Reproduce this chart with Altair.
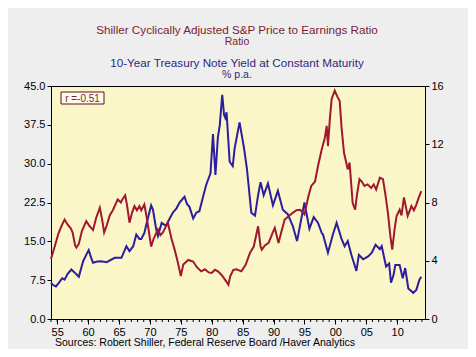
import altair as alt
import pandas as pd

# ---- data ----
cape_year = [1954.0, 1954.6, 1955.2, 1955.7, 1956.2, 1956.7, 1957.2, 1957.5, 1957.9, 1958.1,
             1958.5, 1959.0, 1959.7, 1960.2, 1960.8, 1961.3, 1961.9, 1962.3, 1962.6, 1963.0,
             1963.5, 1964.0, 1964.8, 1965.3, 1965.5, 1966.0, 1966.3, 1966.7, 1967.1, 1967.5,
             1967.9, 1968.3, 1968.6, 1969.1, 1969.5, 1970.2, 1970.6, 1971.3, 1971.7, 1972.1,
             1972.9, 1973.5, 1974.0, 1974.5, 1975.0, 1975.4, 1976.2, 1976.7, 1977.0, 1977.6,
             1978.3, 1978.9, 1979.5, 1980.0, 1980.5, 1981.0, 1981.6, 1982.2, 1982.7, 1983.0,
             1983.5, 1984.0, 1984.8, 1985.5, 1986.2, 1986.8, 1987.5, 1987.9, 1988.1, 1988.6,
             1989.2, 1989.8, 1990.2, 1990.8, 1991.3, 1991.8, 1992.4, 1993.1, 1993.7, 1994.3,
             1995.0, 1995.6, 1996.1, 1996.7, 1997.2, 1997.8, 1998.3, 1998.6, 1998.8, 1999.1,
             1999.4, 1999.9, 2000.3, 2000.7, 2001.0, 2001.4, 2002.0, 2002.3, 2002.8, 2003.2,
             2003.5, 2003.9, 2004.3, 2004.7, 2005.2, 2005.8, 2006.2, 2006.6, 2007.2, 2007.7,
             2008.1, 2008.5, 2008.9, 2009.2, 2009.6, 2009.9, 2010.4, 2010.7, 2011.1, 2011.7,
             2012.3, 2012.7, 2013.1, 2013.5, 2013.9]
cape_val = [11.6, 14.0, 16.5, 18.0, 19.2, 18.2, 17.5, 16.7, 14.2, 13.8,
            14.5, 17.0, 18.9, 18.0, 17.2, 19.5, 21.5, 19.0, 16.7, 18.0,
            20.0, 21.0, 23.1, 22.5, 23.0, 23.9, 22.0, 18.6, 20.5, 21.8,
            21.0, 21.8, 21.0, 22.1, 19.5, 14.0, 15.5, 17.3, 16.2, 16.7,
            18.6, 15.5, 13.4, 11.0, 8.3, 10.5, 11.4, 11.2, 11.1, 10.0,
            9.2, 9.6, 9.0, 8.9, 9.5, 9.2, 8.5, 7.5, 6.6, 8.3,
            9.5, 9.6, 9.2, 10.5, 12.8, 14.0, 17.9, 14.0, 13.4, 14.2,
            14.7, 16.5, 17.6, 14.7, 17.0, 19.2, 19.8, 20.5, 21.0, 21.1,
            20.2, 23.5, 25.7, 26.5, 29.6, 32.8, 35.0, 37.3, 33.4, 38.5,
            42.5, 44.1, 43.0, 42.1, 37.0, 32.1, 28.9, 30.2, 22.4, 21.1,
            24.0, 27.0, 26.5, 25.7, 26.0, 25.3, 26.0, 25.0, 27.3, 27.0,
            24.0, 20.5, 16.0, 13.4, 17.5, 19.9, 21.1, 20.0, 23.5, 19.9,
            21.8, 21.0, 22.1, 23.5, 24.7]

yld_year = [1954.0, 1954.3, 1954.8, 1955.3, 1955.8, 1956.2, 1956.7, 1957.3, 1957.8, 1958.5,
            1959.2, 1959.7, 1960.1, 1960.5, 1960.8, 1961.5, 1962.1, 1963.0, 1964.3, 1965.4,
            1966.2, 1966.7, 1967.3, 1967.8, 1968.3, 1968.6, 1969.1, 1969.6, 1970.2, 1970.5,
            1971.0, 1971.3, 1971.9, 1972.6, 1973.2, 1973.7, 1974.3, 1974.8, 1975.6, 1976.0,
            1976.4, 1977.0, 1977.5, 1978.0, 1978.6, 1979.1, 1979.8, 1980.2, 1980.6, 1981.0,
            1981.3, 1981.7, 1982.0, 1982.2, 1982.4, 1982.9, 1983.4, 1983.7, 1984.5, 1985.2,
            1985.7, 1986.4, 1987.0, 1987.5, 1987.9, 1988.4, 1989.1, 1989.9, 1990.7, 1991.5,
            1992.3, 1993.1, 1993.8, 1994.5, 1995.0, 1995.8, 1996.5, 1997.2, 1997.8, 1998.0,
            1998.8, 1999.6, 2000.2, 2001.0, 2001.5, 2002.0, 2002.6, 2003.4, 2003.8, 2004.5,
            2005.3, 2005.9, 2006.5, 2007.2, 2007.5, 2008.2, 2008.7, 2009.0, 2009.4, 2009.7,
            2010.4, 2010.9, 2011.3, 2011.8, 2012.6, 2013.1, 2013.6, 2013.9]
yld_val = [2.5, 2.35, 2.24, 2.5, 2.8, 2.7, 3.1, 3.4, 3.2, 2.9,
           3.97, 4.4, 4.73, 4.2, 3.86, 3.95, 3.97, 3.9, 4.2, 4.2,
           5.0, 4.65, 5.0, 5.8, 5.5, 5.5, 5.9, 6.8, 7.8, 7.5,
           6.2, 5.7, 6.6, 6.4, 6.9, 7.3, 7.6, 8.0, 8.4, 7.9,
           7.7, 6.9, 7.3, 7.4, 8.4, 9.2, 10.0, 12.7, 9.9, 12.5,
           13.3, 15.4, 14.0, 13.8, 14.2, 10.8, 10.5, 11.7, 13.5, 11.8,
           10.3, 7.3, 7.1, 8.5, 9.4, 8.5, 9.3, 7.8, 8.8, 7.5,
           7.2, 6.4, 5.35, 6.9, 8.0, 6.2, 7.0, 6.6, 5.9, 5.8,
           4.55, 5.8, 6.6, 5.5, 5.0, 5.35, 4.4, 3.3, 4.4, 4.1,
           4.3, 4.55, 5.1, 4.8, 5.0, 3.6, 3.8, 2.5, 3.0, 3.7,
           3.7, 2.8, 3.5, 2.1, 1.8, 2.0, 2.7, 2.9]

x_ticks = list(range(1955, 2011, 5))
minor_years = list(range(1954, 2015))
left_ticks = [0, 7.5, 15, 22.5, 30, 37.5, 45]
right_ticks = [0, 4, 8, 12, 16]

title_lines = ["Shiller Cyclically Adjusted S&P Price to Earnings Ratio", "Ratio",
               "10-Year Treasury Note Yield at Constant Maturity", "% p.a."]
corr_label = "r =-0.51"
source_text = "Sources:  Robert Shiller, Federal Reserve Board /Haver Analytics"

# ---- chart ----
W, H = 374, 233
FONT = "Liberation Sans"
RED = "#a0182e"
BLUE = "#2c1e9e"

xscale = alt.Scale(domain=[1954.0, 2014.5], nice=False, zero=False)

cape_df = pd.DataFrame({"year": cape_year, "cape": cape_val})
yld_df = pd.DataFrame({"year": yld_year, "yld": yld_val})
minor_df = pd.DataFrame({"year": minor_years})

common_axis = dict(title=None, grid=False, domainColor="#000", tickColor="#000",
                   labelColor="#000", labelFont=FONT, labelFontSize=11, tickSize=4)

x_axis = alt.Axis(values=x_ticks, labelExpr="substring(toString(datum.value), 2)",
                  labelPadding=2, labelFlush=False, **{**common_axis, "tickSize": 5})
x_enc = alt.X("year:Q", scale=xscale, axis=x_axis)

yld = alt.Chart(yld_df).mark_line(color=BLUE, strokeWidth=2).encode(
    x=x_enc,
    y=alt.Y("yld:Q", scale=alt.Scale(domain=[0, 16], nice=False),
            axis=alt.Axis(values=right_ticks, orient="right", labelPadding=2, **common_axis)),
)

cape = alt.Chart(cape_df).mark_line(color=RED, strokeWidth=2).encode(
    x=x_enc,
    y=alt.Y("cape:Q", scale=alt.Scale(domain=[0, 45], nice=False),
            axis=alt.Axis(values=left_ticks, format=".1f", orient="left", labelPadding=2, **common_axis)),
)

minor = alt.Chart(minor_df).mark_rule(color="#000", strokeWidth=1).encode(
    x=x_enc,
    y=alt.value(H), y2=alt.value(H + 3),
)

box_df = pd.DataFrame({"t": [corr_label]})
box = alt.Chart(box_df).mark_rect(fill="#fdfbe8", stroke="#5a1020", strokeWidth=1).encode(
    x=alt.value(10), x2=alt.value(53), y=alt.value(6), y2=alt.value(18))
box_text = alt.Chart(box_df).mark_text(font=FONT, fontSize=10, color="#8b1a3a").encode(
    x=alt.value(31.5), y=alt.value(12.5), text="t:N")

def tline(txt, y, color, size):
    return alt.Chart(pd.DataFrame({"t": [txt]})).mark_text(
        font=FONT, fontSize=size, color=color, baseline="middle").encode(
        x=alt.value(186), y=alt.value(y), text="t:N")

titles = [
    tline(title_lines[0], -56, "#7b1c34", 11.7),
    tline(title_lines[1], -44, "#7b1c34", 10.5),
    tline(title_lines[2], -23, "#2e2a78", 11.7),
    tline(title_lines[3], -11, "#2e2a78", 10.5),
]

src = alt.Chart(pd.DataFrame({"t": [source_text]})).mark_text(
    font=FONT, fontSize=10.5, color="#000", align="left", baseline="middle").encode(
    x=alt.value(4), y=alt.value(257), text="t:N")

chart = alt.layer(yld, cape, minor, box, box_text, src, *titles).resolve_scale(
    y="independent"
).properties(
    width=W, height=H,
    autosize=alt.AutoSizeParams(type="none"),
    padding={"left": 43, "top": 78, "right": 43, "bottom": 30},
    background="#eeeeee",
).configure_view(
    fill="#faf6c8", stroke="#000", strokeWidth=1
)

chart.save("out.html", embed_options={"renderer": "svg", "actions": False})
